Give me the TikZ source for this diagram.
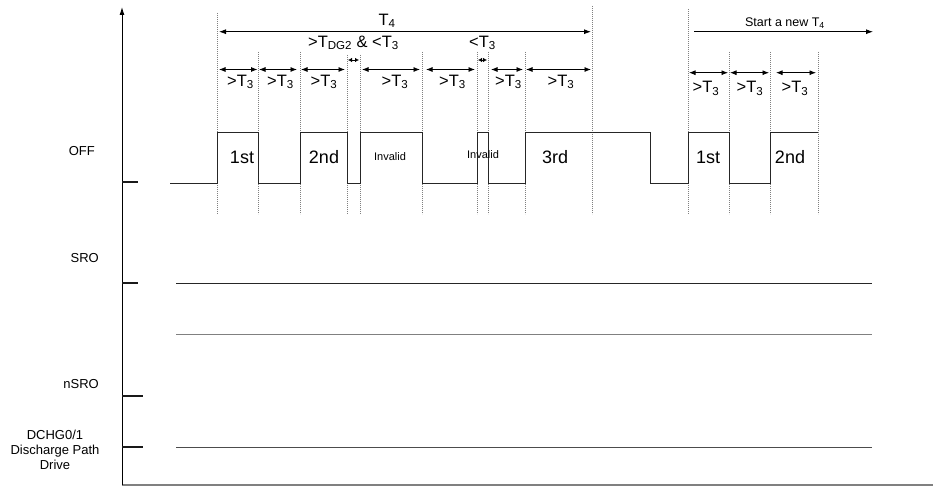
\documentclass[tikz,border=0pt]{standalone}
\usepackage{fontspec}
\setmainfont{Liberation Sans}
\usetikzlibrary{arrows.meta,positioning}

\begin{document}
\begin{tikzpicture}[x=1pt,y=-1pt]
\tikzset{sig/.style={line width=0.9pt,black!85}}
\tikzset{guide/.style={line width=0.8pt,gray,dash pattern=on 1.2pt off 0.8pt}}
\tikzset{dim/.style={line width=0.8pt,{Latex[length=6.5pt,width=5pt]}-{Latex[length=6.5pt,width=5pt]}}}
\tikzset{tinydim/.style={line width=0.8pt,{Latex[length=4pt,width=4.5pt]}-{Latex[length=4pt,width=4.5pt]}}}
\tikzset{tick/.style={line width=2pt,black!90}}
\tikzset{chan/.style={font=\fontsize{13}{15}\selectfont,inner sep=0pt}}
\tikzset{big/.style={font=\fontsize{16.5}{18}\selectfont,inner sep=0pt}}
\tikzset{pulse/.style={font=\fontsize{18}{20}\selectfont,inner sep=0pt}}
\tikzset{small/.style={font=\fontsize{11}{13}\selectfont,inner sep=0pt}}
\useasboundingbox (0,0) rectangle (933,486);

% axes
\coordinate (origin) at (122,485);
\coordinate (ytop) at (122,7);
\coordinate (xend) at (933,485);
\draw[gray,line width=2pt] (origin) -- (xend);
\draw[line width=0.9pt,-{Latex[length=8pt,width=5pt]}] (origin) -- (ytop);

% channel names
\node[chan,anchor=east] (off) at (95,151) {OFF};
\node[chan,anchor=east] (sro) at (99,258) {SRO};
\node[chan,anchor=east] (nsro) at (99,384) {nSRO};
\node[chan,align=center] (dchg) at (55,450) {DCHG0/1\\Discharge Path\\Drive};

% level ticks
\foreach \y/\l in {182.5/16,283/16,396/21,447/21}
  \draw[tick] (122,\y) -- ++(\l,0);

% guide lines
\foreach \x/\t in {217/13,258/52,300/52,347/55,360/55,422/52,477/52,488/52,525/52,592/6,688/9,729/52,770/52,818/52}
  \draw[guide] (\x,\t) -- (\x,214);

% OFF waveform
\draw[sig] (170,183) -| (217,132) -| (258,183) -| (300,132) -| (347,183) -| (360,132)
  -| (422,183) -| (477,132) -| (488,183) -| (525,132) -| (650,183) -| (688,132)
  -| (729,183) -| (770,132) -- (818,132);

\node[pulse] (p1) at (242,157) {1st};
\node[pulse] (p2) at (324,157) {2nd};
\node[small] (inv1) at (390,157) {Invalid};
\node[small] (inv2) at (483,155) {Invalid};
\node[pulse] (p3) at (555,157) {3rd};
\node[pulse] (q1) at (708,157) {1st};
\node[pulse] (q2) at (790,157) {2nd};

% T4 window
\draw[line width=0.8pt,{Latex[length=7pt,width=5pt]}-{Latex[length=7pt,width=5pt]}] (219,31.7) -- (591,31.7);
\node[big] (t4) at (387,21) {T\textsubscript{4}};
\draw[line width=0.8pt,-{Latex[length=7pt,width=5pt]}] (694,31.7) -- (873,31.7);
\node[chan,font=\fontsize{12.5}{14}\selectfont] (newt4) at (785,23) {Start a new T\textsubscript{4}};

% T3 spans
\foreach \a/\b in {219/257.5,259/297,301/345,362/420,426/475,491/523,526/591}
  \draw[dim] (\a,69.5) -- (\b,69.5);
\foreach \a/\b in {689/728,730/769,776/816}
  \draw[dim] (\a,72.7) -- (\b,72.7);
\draw[tinydim] (348,60) -- (359,60);
\draw[tinydim] (478,60) -- (487,60);

\foreach \x [count=\i] in {240.5,280.5,324,395,452.5,508.5,561}
  \node[big] (gt\i) at (\x,82) {>T\textsubscript{3}};
\foreach \x [count=\i] in {706,750,795}
  \node[big] (ht\i) at (\x,88.5) {>T\textsubscript{3}};
\node[big] (dg) at (353.5,43) {>T\textsubscript{DG2} \& <T\textsubscript{3}};
\node[big] (lt) at (482.5,43) {<T\textsubscript{3}};

% SRO / DCHG levels
\draw[sig] (176,283) -- (872,283);
\draw[line width=0.9pt,gray] (176,334) -- (872,334);
\draw[line width=0.9pt,black!70] (176,447) -- (872,447);
\end{tikzpicture}
\end{document}
